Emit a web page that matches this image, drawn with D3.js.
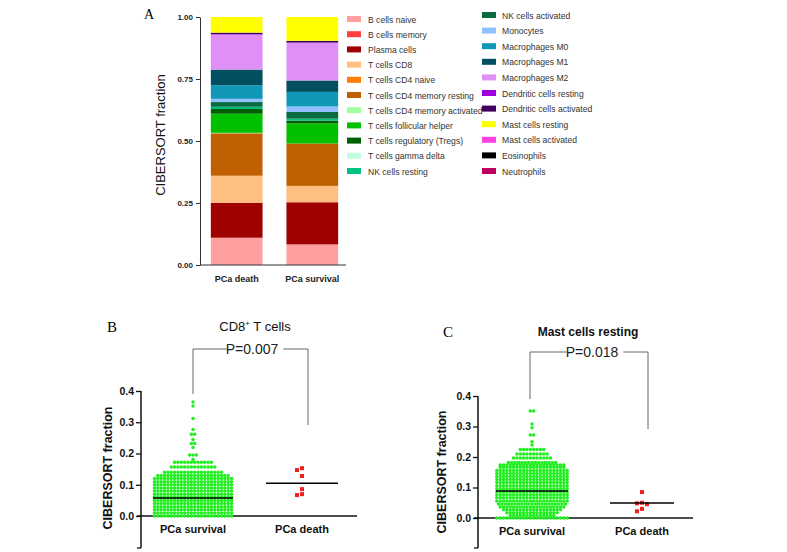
<!DOCTYPE html>
<html><head><meta charset="utf-8">
<script src="https://cdn.jsdelivr.net/npm/d3@7/dist/d3.min.js"></script>
<style>body{margin:0;background:#fff}svg{display:block}</style>
</head><body><svg id="c" width="787" height="552"></svg>
<script>
// ---------- Panel A data ----------
const stackGroups = ["PCa death", "PCa survival"];
const cellTypes = ["B cells naive","B cells memory","Plasma cells","T cells CD8","T cells CD4 naive",
 "T cells CD4 memory resting","T cells CD4 memory activated","T cells follicular helper",
 "T cells regulatory (Tregs)","T cells gamma delta","NK cells resting","NK cells activated",
 "Monocytes","Macrophages M0","Macrophages M1","Macrophages M2","Dendritic cells resting",
 "Dendritic cells activated","Mast cells resting","Mast cells activated","Eosinophils","Neutrophils"];
const deathFractions =    [0.110,0,0.141,0.109,0,0.171,0.002,0.077,0.019,0,0.009,0.019,0.013,0.055,0.063,0.141,0.002,0.006,0.063,0,0,0];
const survivalFractions = [0.083,0,0.170,0.066,0,0.171,0.000,0.081,0.011,0,0.008,0.027,0.022,0.059,0.046,0.152,0.001,0.007,0.096,0,0,0];
const cellColors = ["#ff9f9f","#ff3f3f","#9f0000","#ffbf80","#ff7f00","#c06000","#a0ffa0","#00c000",
 "#006000","#c0ffe0","#00c080","#0a6b40","#90c0ff","#1198b8","#02505f","#df8ff7","#a000e0",
 "#3f0060","#ffff00","#ff40e0","#000000","#c00060"];
const stackTicks = [0, 0.25, 0.5, 0.75, 1.0];

// ---------- Panel B data (CD8+ T cells) ----------
const cd8SurvivalRowValues = [0.000,0.010,0.020,0.030,0.040,0.050,0.060,0.070,0.080,0.090,0.100,0.110,0.120,0.130,0.140,0.157,0.172,0.181,0.195,0.219,0.232,0.245,0.262,0.277,0.312,0.352,0.365];
const cd8SurvivalRowCounts = [24,24,24,24,24,24,24,24,24,24,24,24,24,22,18,14,12,1,3,1,2,1,2,1,1,1,1];
const cd8Death = [0.153,0.147,0.128,0.086,0.070,0.067];
const cd8Medians = [0.0575, 0.105];
const cd8P = "P=0.007";

// ---------- Panel C data (Mast cells resting) ----------
const mastSurvivalRowValues = [0.000,0.008,0.017,0.027,0.036,0.046,0.056,0.066,0.076,0.086,0.096,0.106,0.116,0.126,0.136,0.146,0.156,0.166,0.174,0.182,0.197,0.210,0.225,0.239,0.250,0.272,0.296,0.308,0.351];
const mastSurvivalRowCounts = [22,14,16,18,20,21,22,22,22,22,22,22,22,22,22,22,22,20,20,15,12,10,8,1,1,2,1,1,2];
const mastDeath = [0.085,0.050,0.048,0.045,0.030,0.022];
const mastMedians = [0.0885, 0.049];
const mastP = "P=0.018";

const scatterGroups = ["PCa survival", "PCa death"];
const scatterTicks = [0, 0.1, 0.2, 0.3, 0.4];

// ---------- drawing ----------
const svg = d3.select("#c");
const SANS = "'Liberation Sans', Arial, sans-serif";
const SERIF = "'Liberation Serif', 'Times New Roman', serif";

// ===== Panel A =====
(function(){
  const y = d3.scaleLinear().domain([0,1]).range([265,17]);
  const x = d3.scaleBand().domain(stackGroups).range([201,348]).paddingInner(0.316).paddingOuter(0.13);
  const rows = stackGroups.map((g,gi)=>{
    const o = {group:g};
    const arr = gi===0?deathFractions:survivalFractions;
    cellTypes.forEach((c,i)=>o[c]=arr[i]);
    return o;
  });
  const series = d3.stack().keys(cellTypes)(rows);
  const g = svg.append("g");
  series.forEach((s,i)=>{
    g.selectAll(null).data(s).enter().append("rect")
      .attr("x", d=>x(d.data.group)).attr("width", x.bandwidth())
      .attr("y", d=>y(d[1])).attr("height", d=>Math.max(0,y(d[0])-y(d[1])))
      .attr("fill", cellColors[i]);
  });
  const ya = g.append("g").attr("transform","translate(200,0)")
    .call(d3.axisLeft(y).tickValues(stackTicks).tickFormat(d3.format(".2f")).tickSize(4).tickSizeOuter(0));
  ya.select(".domain").attr("stroke","#333");
  ya.selectAll(".tick line").attr("stroke","#333");
  ya.selectAll("text").attr("font-family",SANS).attr("font-size","8px").attr("font-weight","bold").attr("fill","#222");
  g.append("line").attr("x1",200).attr("x2",346).attr("y1",265).attr("y2",265).attr("stroke","#333");
  stackGroups.forEach(gr=>{
    g.append("text").attr("x",x(gr)+x.bandwidth()/2).attr("y",282).attr("text-anchor","middle")
      .attr("font-family",SANS).attr("font-size","9px").attr("font-weight","bold").attr("fill","#222").text(gr);
  });
  g.append("text").attr("transform","translate(165,135) rotate(-90)").attr("text-anchor","middle")
    .attr("font-family",SANS).attr("font-size","13px").attr("fill","#111").text("CIBERSORT fraction");
  g.append("text").attr("x",144).attr("y",19).attr("font-family",SERIF).attr("font-size","14px").text("A");
  // legend
  const half = 11;
  cellTypes.forEach((c,i)=>{
    const col = i<half?0:1, r = i<half?i:i-half;
    const sx = col===0?347:482;
    const sy = col===0?(19 + r*15.2):(15 + r*15.6);
    g.append("rect").attr("x",sx).attr("y",sy-3).attr("width",14).attr("height",6).attr("fill",cellColors[i]);
    g.append("text").attr("x",sx+(col===0?21:20)).attr("y",sy+3.5).attr("font-family",SANS)
      .attr("font-size","8.6px").attr("fill","#333").text(c);
  });
})();

// ===== scatter panels =====
function scatterPanel(opt){
  const g = svg.append("g");
  const y = d3.scaleLinear().domain([0,0.4]).range([opt.y0, opt.y4]);
  const xc = opt.centers;
  const ya = g.append("g").attr("transform",`translate(${opt.ax},0)`)
    .call(d3.axisLeft(y).tickValues(scatterTicks).tickFormat(d3.format(".1f")).tickSize(5).tickSizeOuter(0));
  ya.select(".domain").remove();
  ya.selectAll(".tick line").attr("stroke","#111").attr("stroke-width",1.3);
  ya.selectAll("text").attr("font-family",SANS).attr("font-size","10.5px").attr("font-weight","bold").attr("fill","#111").attr("dx","1");
  g.append("line").attr("x1",opt.ax).attr("x2",opt.ax).attr("y1",opt.y4).attr("y2",548).attr("stroke","#111").attr("stroke-width",1.5);
  g.append("line").attr("x1",opt.ax-4).attr("x2",opt.ax).attr("y1",548).attr("y2",548).attr("stroke","#111").attr("stroke-width",1.3);
  g.append("line").attr("x1",opt.ax-4).attr("x2",opt.xEnd).attr("y1",opt.y0).attr("y2",opt.y0).attr("stroke","#111").attr("stroke-width",1.5);
  const sp = 3.35;
  opt.rowVals.forEach((v,ri)=>{
    const n = opt.rowCounts[ri];
    for(let i=0;i<n;i++){
      g.append("circle").attr("cx", xc[0] + (i-(n-1)/2)*sp).attr("cy", y(v)).attr("r",1.75).attr("fill","#22ee22");
    }
  });
  const placed = [];
  opt.death.slice().sort((a,b)=>b-a).forEach(v=>{
    const py = y(v);
    for(const off of [0,-5,5,-10,10]){
      const px = xc[1]+off;
      if(!placed.some(p=>Math.hypot(p[0]-px,p[1]-py)<4.8)){ placed.push([px,py]); break; }
    }
  });
  placed.forEach(p=>g.append("rect").attr("x",p[0]-2).attr("y",p[1]-2).attr("width",4).attr("height",4).attr("fill","#ee2020"));
  opt.medians.forEach((m,i)=>{
    g.append("line").attr("x1",xc[i]-opt.halfW[i]).attr("x2",xc[i]+opt.halfW[i]).attr("y1",y(m)).attr("y2",y(m))
      .attr("stroke","#000").attr("stroke-width",1.6);
  });
  scatterGroups.forEach((s,i)=>{
    g.append("text").attr("x",xc[i]).attr("y",opt.y0+17).attr("text-anchor","middle").attr("font-family",SANS)
      .attr("font-size","11px").attr("font-weight","bold").attr("fill","#111").text(s);
  });
  g.append("text").attr("transform",`translate(${opt.ylx},${opt.ylc}) rotate(-90)`).attr("text-anchor","middle")
    .attr("font-family",SANS).attr("font-size","12.5px").attr("font-weight","bold").attr("fill","#111").text("CIBERSORT fraction");
  const bY = opt.bY;
  g.append("line").attr("x1",opt.bL).attr("x2",opt.bL).attr("y1",bY).attr("y2",opt.bLb).attr("stroke","#666");
  g.append("line").attr("x1",opt.bR).attr("x2",opt.bR).attr("y1",bY).attr("y2",opt.bRb).attr("stroke","#666");
  const t = g.append("text").attr("x",opt.pX).attr("y",bY+5).attr("text-anchor","middle").attr("font-family",SANS)
    .attr("font-size","14px").attr("fill","#222").text(opt.p);
  const w = t.node().getComputedTextLength();
  g.append("line").attr("x1",opt.bL).attr("x2",opt.pX-w/2+1).attr("y1",bY).attr("y2",bY).attr("stroke","#666");
  g.append("line").attr("x1",opt.pX+w/2+5).attr("x2",opt.bR).attr("y1",bY).attr("y2",bY).attr("stroke","#666");
  g.append("text").attr("x",opt.tX).attr("y",opt.tY).attr("text-anchor","middle").attr("font-family",SANS)
    .attr("font-size",opt.tSize).attr("font-weight",opt.tWeight).attr("fill","#111").html(opt.title);
  g.append("text").attr("x",opt.lX).attr("y",opt.lY).attr("font-family",SERIF).attr("font-size","15px").text(opt.letter);
}

scatterPanel({
  y0:516, y4:391, ax:141, xEnd:357, centers:[193,302], halfW:[40,36],
  rowVals:cd8SurvivalRowValues, rowCounts:cd8SurvivalRowCounts, death:cd8Death, medians:cd8Medians,
  ylx:112, ylc:468, bY:349, bL:193, bR:308, bLb:394, bRb:425, pX:252, p:cd8P,
  title:'CD8<tspan dy="-5" font-size="8px">+</tspan><tspan dy="5"> T cells</tspan>', tX:255, tY:331, tSize:"13px", tWeight:"normal",
  letter:"B", lX:107, lY:332
});
scatterPanel({
  y0:518, y4:396, ax:478, xEnd:693, centers:[532,642], halfW:[36,32],
  rowVals:mastSurvivalRowValues, rowCounts:mastSurvivalRowCounts, death:mastDeath, medians:mastMedians,
  ylx:446, ylc:472, bY:352, bL:530, bR:648, bLb:399, bRb:429, pX:592, p:mastP,
  title:"Mast cells resting", tX:588, tY:336, tSize:"12px", tWeight:"bold",
  letter:"C", lX:443, lY:337
});
</script></body></html>
